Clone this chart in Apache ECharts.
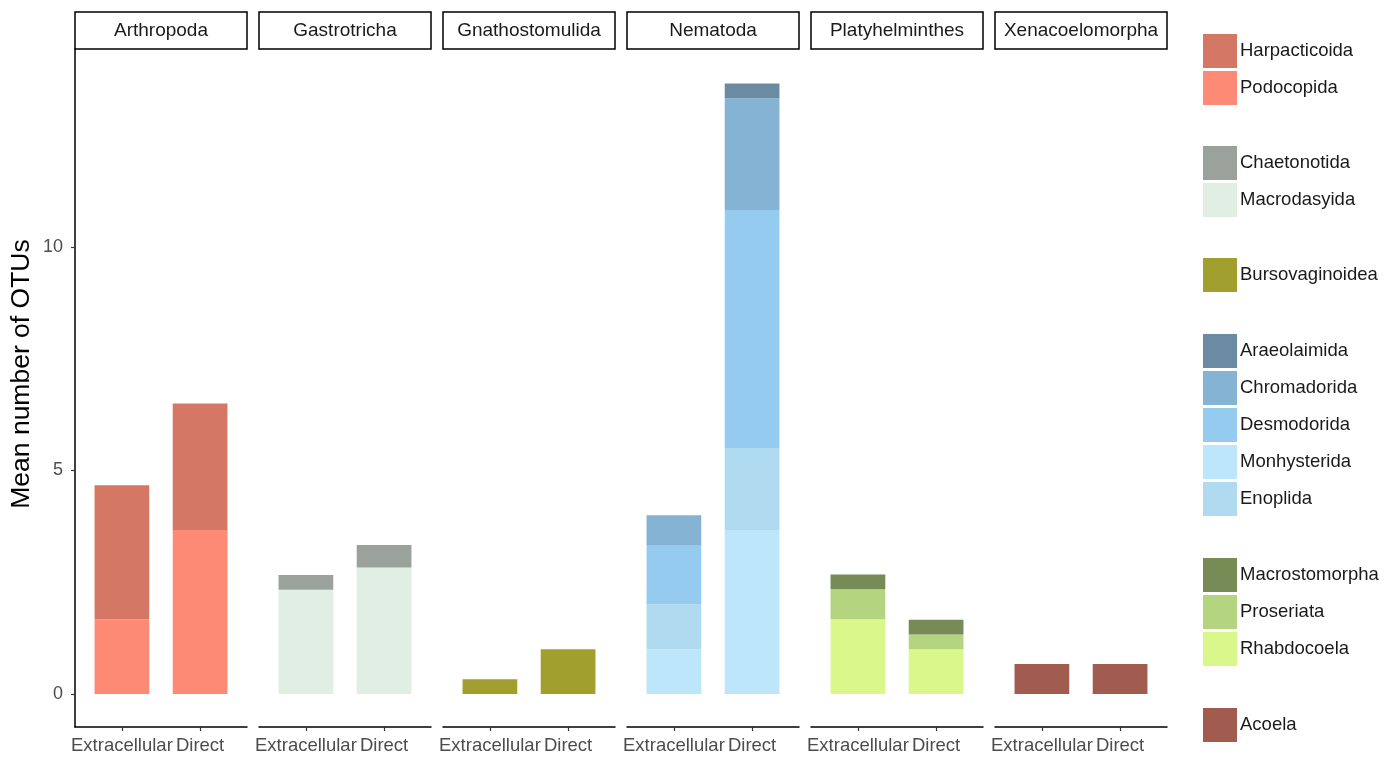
<!DOCTYPE html>
<html><head><meta charset="utf-8">
<script src="https://cdn.jsdelivr.net/npm/echarts@6/dist/echarts.min.js"></script>
<style>html,body{margin:0;padding:0;background:#fff}#c{width:1397px;height:757px}</style>
</head><body><div id="c"></div>
<script>
// ---- data ----
const phyla = ['Arthropoda','Gastrotricha','Gnathostomulida','Nematoda','Platyhelminthes','Xenacoelomorpha'];
const treatments = ['Extracellular','Direct'];
const yTickValues = [0, 5, 10];

// mean number of OTUs per order: [Extracellular, Direct]
const harpacticoida   = [3.00, 2.83];
const podocopida      = [1.67, 3.67];
const chaetonotida    = [0.33, 0.50];
const macrodasyida    = [2.33, 2.83];
const bursovaginoidea = [0.33, 1.00];
const araeolaimida    = [0.00, 0.33];
const chromadorida    = [0.67, 2.50];
const desmodorida     = [1.33, 5.33];
const monhysterida    = [1.00, 3.67];
const enoplida        = [1.00, 1.83];
const macrostomorpha  = [0.33, 0.33];
const proseriata      = [0.67, 0.33];
const rhabdocoela     = [1.67, 1.00];
const acoela          = [0.67, 0.67];

// orders per phylum, bottom of stack first
const phylumOrders = {
  Arthropoda: [['Podocopida', podocopida], ['Harpacticoida', harpacticoida]],
  Gastrotricha: [['Macrodasyida', macrodasyida], ['Chaetonotida', chaetonotida]],
  Gnathostomulida: [['Bursovaginoidea', bursovaginoidea]],
  Nematoda: [['Monhysterida', monhysterida], ['Enoplida', enoplida], ['Desmodorida', desmodorida], ['Chromadorida', chromadorida], ['Araeolaimida', araeolaimida]],
  Platyhelminthes: [['Rhabdocoela', rhabdocoela], ['Proseriata', proseriata], ['Macrostomorpha', macrostomorpha]],
  Xenacoelomorpha: [['Acoela', acoela]]
};
const legendGroups = [
  ['Harpacticoida','Podocopida'],
  ['Chaetonotida','Macrodasyida'],
  ['Bursovaginoidea'],
  ['Araeolaimida','Chromadorida','Desmodorida','Monhysterida','Enoplida'],
  ['Macrostomorpha','Proseriata','Rhabdocoela'],
  ['Acoela']
];

// ---- styles ----
const colors = {
  Harpacticoida:'#D47865', Podocopida:'#FD8A75',
  Chaetonotida:'#9AA29B', Macrodasyida:'#E1EEE3',
  Bursovaginoidea:'#A1A02F',
  Araeolaimida:'#6A8BA1', Chromadorida:'#84B3D3', Desmodorida:'#95CBEE', Monhysterida:'#BEE6FA', Enoplida:'#AFDAF0',
  Macrostomorpha:'#778B56', Proseriata:'#B4D47F', Rhabdocoela:'#D9F78B',
  Acoela:'#A15B4F'
};
const FONT = 'Liberation Sans, Arial, sans-serif';
const panelLeft0 = 75, panelW = 172, panelGap = 12, plotTop = 49, plotBottom = 30;
const yMin = -0.74, yMax = 14.43;
const legendTops = [34, 146, 258, 334, 558, 708];
// ggplot discrete expansion: 0.6 units each side of 2 categories
const unitW = panelW / 2.2, innerPad = unitW * 0.1;

const chart = echarts.init(document.getElementById('c'));
const grids = [], xAxes = [], yAxes = [], series = [], graphics = [];

phyla.forEach((ph, i) => {
  const L = panelLeft0 + i * (panelW + panelGap);
  const gA = 2 * i, gB = 2 * i + 1;
  // frame grid (full panel width): axis lines
  grids.push({left: L, width: panelW, top: plotTop, bottom: plotBottom});
  xAxes.push({
    type: 'value', gridIndex: gA, min: 0, max: 1,
    axisLine: {show: true, onZero: false, lineStyle: {color: '#000', width: 1.5}},
    axisTick: {show: false}, axisLabel: {show: false}, splitLine: {show: false}
  });
  yAxes.push({
    type: 'value', gridIndex: gA, min: yMin, max: yMax, show: i === 0,
    name: i === 0 ? 'Mean number of OTUs' : '', nameLocation: 'middle', nameGap: 40,
    nameTextStyle: {color: '#000', fontSize: 26.5, fontFamily: FONT, padding: [0, 0, 0, 28]},
    axisLine: {show: true, onZero: false, lineStyle: {color: '#000', width: 1.5}},
    axisTick: {show: true, length: 4, customValues: yTickValues, lineStyle: {color: '#333', width: 1.2}},
    axisLabel: {customValues: yTickValues, color: '#4d4d4d', fontSize: 18, fontFamily: FONT, margin: 12},
    splitLine: {show: false}
  });
  // bar grid (category bands)
  grids.push({left: L + innerPad, width: panelW - 2 * innerPad, top: plotTop, bottom: plotBottom});
  xAxes.push({
    type: 'category', gridIndex: gB, data: treatments, boundaryGap: true,
    axisLine: {show: false, onZero: false},
    axisTick: {show: true, alignWithLabel: true, length: 4, lineStyle: {color: '#333', width: 1.2}},
    axisLabel: {color: '#4d4d4d', fontSize: 18.5, fontFamily: FONT, margin: 9, interval: 0},
    splitLine: {show: false}
  });
  yAxes.push({type: 'value', gridIndex: gB, min: yMin, max: yMax, show: false});
  phylumOrders[ph].forEach(([name, vals]) => {
    series.push({
      type: 'bar', name, xAxisIndex: gB, yAxisIndex: gB, stack: ph,
      barWidth: '70%',
      itemStyle: {color: colors[name]},
      data: vals,
      emphasis: {disabled: true}
    });
  });
  graphics.push({type: 'rect', shape: {x: L, y: 12, width: panelW, height: plotTop - 12},
    style: {fill: '#fff', stroke: '#000', lineWidth: 1.5}});
  graphics.push({type: 'text', x: L + panelW / 2, y: (12 + plotTop) / 2,
    style: {text: ph, align: 'center', verticalAlign: 'middle', fill: '#1a1a1a', font: '19px ' + FONT}});
});

const legends = legendGroups.map((g, k) => ({
  data: g, orient: 'vertical', left: 1203, top: legendTops[k], padding: 0,
  itemWidth: 34, itemHeight: 34, itemGap: 3, icon: 'rect', selectedMode: false,
  textStyle: {color: '#1a1a1a', fontSize: 18.5, fontFamily: FONT, padding: [0, 0, 0, -2]}
}));

chart.setOption({
  animation: false,
  backgroundColor: '#fff',
  grid: grids, xAxis: xAxes, yAxis: yAxes, series,
  legend: legends,
  graphic: graphics
});
</script></body></html>
